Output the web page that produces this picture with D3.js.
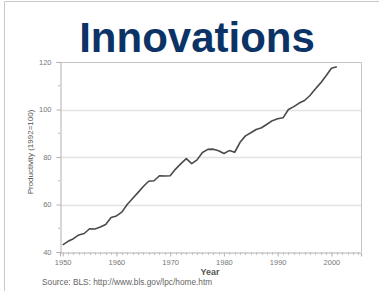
<!DOCTYPE html>
<html>
<head>
<meta charset="utf-8">
<script src="https://cdn.jsdelivr.net/npm/d3@7"></script>
<style>
	body { margin: 0; background: #fff; }
	text { font-family: "Liberation Sans", Arial, sans-serif; }
</style>
</head>
<body>
<div id="chart"></div>
<script>
// data (index, 1992=100)
let years = [1950, 1951, 1952, 1953, 1954, 1955, 1956, 1957, 1958, 1959,
	1960, 1961, 1962, 1963, 1964, 1965, 1966, 1967, 1968, 1969,
	1970, 1971, 1972, 1973, 1974, 1975, 1976, 1977, 1978, 1979,
	1980, 1981, 1982, 1983, 1984, 1985, 1986, 1987, 1988, 1989,
	1990, 1991, 1992, 1993, 1994, 1995, 1996, 1997, 1998, 1999,
	2000, 2001];
let productivity = [43.0, 44.5, 45.6, 47.2, 47.8, 49.8, 49.7, 50.5, 51.6, 54.5,
	55.2, 56.8, 60.0, 62.5, 65.0, 67.6, 69.8, 70.0, 72.1, 72.0,
	72.1, 74.9, 77.2, 79.3, 77.2, 78.8, 81.9, 83.2, 83.3, 82.6,
	81.5, 82.7, 82.0, 86.2, 88.9, 90.2, 91.6, 92.3, 93.8, 95.3,
	96.1, 96.5, 100.0, 101.2, 102.7, 103.8, 105.9, 108.6, 111.2, 114.2,
	117.4, 118.0];
let yTicks = [40, 60, 80, 100, 120];
let xTicks = [1950, 1960, 1970, 1980, 1990, 2000];

let title = "Innovations",
	yLabel = "Productivity (1992=100)",
	xLabel = "Year",
	source = "Source: BLS: http://www.bls.gov/lpc/home.htm";

let width = 379,
	height = 291;

let plot = { left: 60, right: 361, top: 62, bottom: 252 };

let svg = d3.select('#chart').append('svg')
	.attr('width', width)
	.attr('height', height);

// slide frame
svg.append('path')
	.attr('d', 'M4.5,291 V1.5 H379')
	.attr('fill', 'none')
	.attr('stroke', '#c8c8c8');

svg.append('text')
	.attr('x', 197)
	.attr('y', 52)
	.attr('text-anchor', 'middle')
	.attr('font-size', 42)
	.attr('font-weight', 'bold')
	.attr('fill', '#0b3366')
	.text(title);

let x = d3.scaleLinear()
	.domain([1949.5, 2005.5])
	.range([plot.left, plot.right]);

let y = d3.scaleLinear()
	.domain([40, 120])
	.range([plot.bottom, plot.top]);

// gridlines
svg.append('g')
	.selectAll('line')
	.data(yTicks.slice(1, -1))
	.enter().append('line')
	.attr('x1', plot.left)
	.attr('x2', plot.right)
	.attr('y1', function(d) { return Math.round(y(d)) + 0.5 })
	.attr('y2', function(d) { return Math.round(y(d)) + 0.5 })
	.attr('stroke', '#e3e3e3')
	.attr('stroke-width', 1.5);

// frame (top + right)
svg.append('path')
	.attr('d', 'M' + plot.left + ',' + (plot.top + 0.5) + ' H' + (plot.right + 0.5) + ' V' + plot.bottom)
	.attr('fill', 'none')
	.attr('stroke', '#c4c4c4');

// y axis
let yAxis = d3.axisLeft(y)
	.tickValues(yTicks)
	.tickSize(4)
	.tickPadding(5);

let gy = svg.append('g')
	.attr('transform', 'translate(' + (plot.left + 0.5) + ',0)')
	.call(yAxis);

gy.select('.domain').attr('stroke', '#b0b0b0');
gy.selectAll('.tick line').attr('stroke', '#b0b0b0');
gy.selectAll('.tick text')
	.attr('font-size', 7.5)
	.attr('fill', '#777')
	.attr('font-family', '"Liberation Sans", Arial, sans-serif');

// y minor ticks
svg.append('g')
	.selectAll('line')
	.data([50, 70, 90, 110])
	.enter().append('line')
	.attr('x1', plot.left - 2)
	.attr('x2', plot.left)
	.attr('y1', function(d) { return y(d) })
	.attr('y2', function(d) { return y(d) })
	.attr('stroke', '#bbb');

// x axis
let xAxis = d3.axisBottom(x)
	.tickValues(xTicks)
	.tickSize(4)
	.tickFormat(d3.format('d'))
	.tickPadding(3);

let gx = svg.append('g')
	.attr('transform', 'translate(0,' + (plot.bottom + 0.5) + ')')
	.call(xAxis);

gx.select('.domain').attr('stroke', '#b0b0b0');
gx.selectAll('.tick line').attr('stroke', '#b0b0b0');
gx.selectAll('.tick text')
	.attr('font-size', 7.5)
	.attr('fill', '#777')
	.attr('font-family', '"Liberation Sans", Arial, sans-serif');

// x minor ticks (every year)
svg.append('g')
	.selectAll('line')
	.data(d3.range(1950, 2006))
	.enter().append('line')
	.attr('x1', function(d) { return Math.round(x(d)) + 0.5 })
	.attr('x2', function(d) { return Math.round(x(d)) + 0.5 })
	.attr('y1', plot.bottom)
	.attr('y2', plot.bottom + 3)
	.attr('stroke', '#c4c4c4');

// the line
let line = d3.line()
	.x(function(d, i) { return x(years[i]) })
	.y(function(d) { return y(d) });

svg.append('path')
	.datum(productivity)
	.attr('d', line)
	.attr('fill', 'none')
	.attr('stroke', '#4a4a4a')
	.attr('stroke-width', 1.6)
	.attr('stroke-linejoin', 'round');

// labels
svg.append('text')
	.attr('transform', 'translate(33,152) rotate(-90)')
	.attr('text-anchor', 'middle')
	.attr('font-size', 8)
	.attr('fill', '#555')
	.text(yLabel);

svg.append('text')
	.attr('x', 210)
	.attr('y', 275)
	.attr('text-anchor', 'middle')
	.attr('font-size', 9)
	.attr('font-weight', 'bold')
	.attr('fill', '#555')
	.text(xLabel);

svg.append('text')
	.attr('x', 42)
	.attr('y', 285)
	.attr('font-size', 8.3)
	.attr('fill', '#666')
	.text(source);
</script>
</body>
</html>
